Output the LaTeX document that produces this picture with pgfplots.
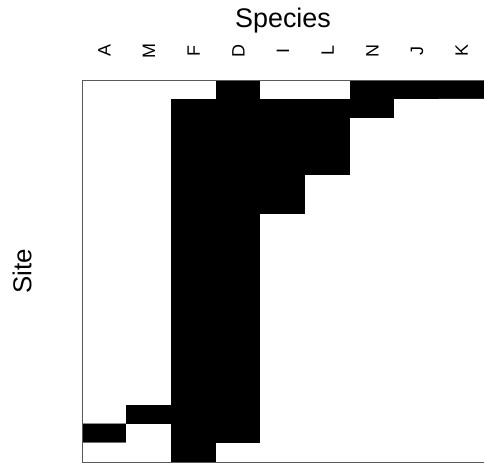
\documentclass[border=0pt]{standalone}
\usepackage{pgfplots}
\pgfplotsset{compat=1.18}
\usepackage{fontspec}
\setmainfont{Liberation Sans}
\newcommand{\tl}[1]{{\fontsize{18}{18}\selectfont #1}}
\begin{document}
\begin{tikzpicture}
\path[use as bounding box] (0,0) rectangle (484bp,463bp);
\begin{axis}[
  at={(82bp,1bp)}, anchor=south west,
  width=402bp, height=382bp, scale only axis,
  xmin=-0.5, xmax=8.5, ymin=0.5, ymax=20.5,
  y dir=reverse,
  axis line style={gray!70!black, line width=0.6pt},
  xtick={0,1,2,3,4,5,6,7,8},
  xticklabels={\tl{A},\tl{M},\tl{F},\tl{D},\tl{I},\tl{L},\tl{N},\tl{J},\tl{K}},
  xticklabel pos=top,
  xticklabel shift=29bp,
  xticklabel style={rotate=90, anchor=center, inner sep=0pt},
  major tick length=0pt,
  ytick=\empty,
  colormap={bw}{color=(white) color=(black)},
  point meta min=0, point meta max=1,
  title={Species},
  title style={at={(axis description cs:0.5,1.14)}, anchor=center, font=\fontsize{27}{27}\selectfont},
  ylabel={Site},
  ylabel style={at={(axis description cs:-0.149,0.5)}, anchor=center, rotate=0, font=\fontsize{26}{26}\selectfont},
  axis on top,
]
\addplot [matrix plot*, mesh/cols=9, point meta=explicit] coordinates {
(0,1)[0] (1,1)[0] (2,1)[0] (3,1)[1] (4,1)[0] (5,1)[0] (6,1)[1] (7,1)[1] (8,1)[1]
(0,2)[0] (1,2)[0] (2,2)[1] (3,2)[1] (4,2)[1] (5,2)[1] (6,2)[1] (7,2)[0] (8,2)[0]
(0,3)[0] (1,3)[0] (2,3)[1] (3,3)[1] (4,3)[1] (5,3)[1] (6,3)[0] (7,3)[0] (8,3)[0]
(0,4)[0] (1,4)[0] (2,4)[1] (3,4)[1] (4,4)[1] (5,4)[1] (6,4)[0] (7,4)[0] (8,4)[0]
(0,5)[0] (1,5)[0] (2,5)[1] (3,5)[1] (4,5)[1] (5,5)[1] (6,5)[0] (7,5)[0] (8,5)[0]
(0,6)[0] (1,6)[0] (2,6)[1] (3,6)[1] (4,6)[1] (5,6)[0] (6,6)[0] (7,6)[0] (8,6)[0]
(0,7)[0] (1,7)[0] (2,7)[1] (3,7)[1] (4,7)[1] (5,7)[0] (6,7)[0] (7,7)[0] (8,7)[0]
(0,8)[0] (1,8)[0] (2,8)[1] (3,8)[1] (4,8)[0] (5,8)[0] (6,8)[0] (7,8)[0] (8,8)[0]
(0,9)[0] (1,9)[0] (2,9)[1] (3,9)[1] (4,9)[0] (5,9)[0] (6,9)[0] (7,9)[0] (8,9)[0]
(0,10)[0] (1,10)[0] (2,10)[1] (3,10)[1] (4,10)[0] (5,10)[0] (6,10)[0] (7,10)[0] (8,10)[0]
(0,11)[0] (1,11)[0] (2,11)[1] (3,11)[1] (4,11)[0] (5,11)[0] (6,11)[0] (7,11)[0] (8,11)[0]
(0,12)[0] (1,12)[0] (2,12)[1] (3,12)[1] (4,12)[0] (5,12)[0] (6,12)[0] (7,12)[0] (8,12)[0]
(0,13)[0] (1,13)[0] (2,13)[1] (3,13)[1] (4,13)[0] (5,13)[0] (6,13)[0] (7,13)[0] (8,13)[0]
(0,14)[0] (1,14)[0] (2,14)[1] (3,14)[1] (4,14)[0] (5,14)[0] (6,14)[0] (7,14)[0] (8,14)[0]
(0,15)[0] (1,15)[0] (2,15)[1] (3,15)[1] (4,15)[0] (5,15)[0] (6,15)[0] (7,15)[0] (8,15)[0]
(0,16)[0] (1,16)[0] (2,16)[1] (3,16)[1] (4,16)[0] (5,16)[0] (6,16)[0] (7,16)[0] (8,16)[0]
(0,17)[0] (1,17)[0] (2,17)[1] (3,17)[1] (4,17)[0] (5,17)[0] (6,17)[0] (7,17)[0] (8,17)[0]
(0,18)[0] (1,18)[1] (2,18)[1] (3,18)[1] (4,18)[0] (5,18)[0] (6,18)[0] (7,18)[0] (8,18)[0]
(0,19)[1] (1,19)[0] (2,19)[1] (3,19)[1] (4,19)[0] (5,19)[0] (6,19)[0] (7,19)[0] (8,19)[0]
(0,20)[0] (1,20)[0] (2,20)[1] (3,20)[0] (4,20)[0] (5,20)[0] (6,20)[0] (7,20)[0] (8,20)[0]
};
\end{axis}
\end{tikzpicture}
\end{document}
